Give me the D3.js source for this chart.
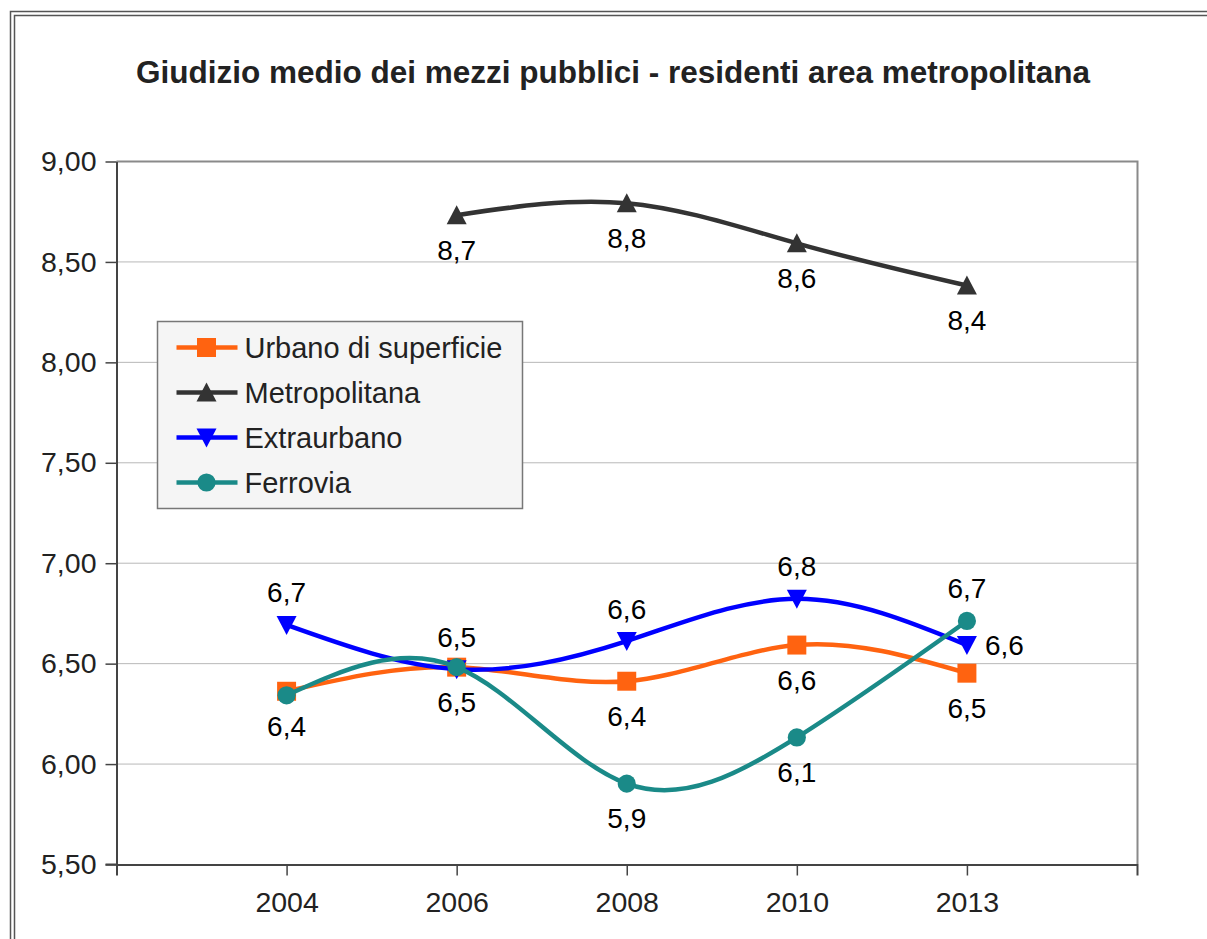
<!DOCTYPE html>
<html lang="it">
<head>
  <meta charset="utf-8">
  <title>Giudizio medio dei mezzi pubblici</title>
  <script src="https://d3js.org/d3.v7.min.js"></script>
  <style>
    body { margin: 0; background: #fff; }
    text { font-family: "Liberation Sans", Arial, sans-serif; }
  </style>
</head>
<body>
<script>
  // data
  var years = ["2004", "2006", "2008", "2010", "2013"];
  var urbano = [6.36, 6.48, 6.41, 6.59, 6.45];
  var metropolitana = [null, 8.73, 8.79, 8.59, 8.38];
  var extraurbano = [6.69, 6.47, 6.61, 6.82, 6.59];
  var ferrovia = [6.34, 6.48, 5.90, 6.13, 6.71];
  var yTicks = [5.5, 6.0, 6.5, 7.0, 7.5, 8.0, 8.5, 9.0];

  // where each point's value label sits (null = hidden behind another label)
  var urbanoLabelPos = ["below", "below", "below", "below", "below"];
  var metroLabelPos = [null, "below", "below", "below", "below"];
  var extraLabelPos = ["above", "above", "above", "above", "right"];
  var ferroviaLabelPos = [null, null, "below", "below", "above"];

  var series = [
    { name: "Urbano di superficie", values: urbano, color: "#ff6310", symbol: "square", pos: urbanoLabelPos },
    { name: "Metropolitana", values: metropolitana, color: "#333333", symbol: "triangle", pos: metroLabelPos },
    { name: "Extraurbano", values: extraurbano, color: "#0000ff", symbol: "triangleDown", pos: extraLabelPos },
    { name: "Ferrovia", values: ferrovia, color: "#1a8a88", symbol: "circle", pos: ferroviaLabelPos }
  ];

  var W = 1207, H = 939;
  var pLeft = 116.5, pRight = 1137, pTop = 161, pBottom = 864;

  var svg = d3.select("body").append("svg")
    .attr("width", W)
    .attr("height", H);

  // double outer frame (runs off the picture on right and bottom)
  svg.append("rect").attr("x", 10.5).attr("y", 11.5).attr("width", 1220).attr("height", 960)
    .attr("fill", "none").attr("stroke", "#555").attr("stroke-width", 1.5);
  svg.append("rect").attr("x", 14.5).attr("y", 15.5).attr("width", 1220).attr("height", 960)
    .attr("fill", "none").attr("stroke", "#555").attr("stroke-width", 1.5);

  svg.append("text")
    .attr("x", 613).attr("y", 83)
    .attr("text-anchor", "middle")
    .attr("font-size", "31.5px")
    .attr("font-weight", "bold")
    .attr("fill", "#222")
    .text("Giudizio medio dei mezzi pubblici - residenti area metropolitana");

  var x = d3.scalePoint().domain(years).range([pLeft, pRight]).padding(1);
  var y = d3.scaleLinear().domain([5.5, 9]).range([pBottom, pTop]);

  // gridlines
  svg.append("g").selectAll("line")
    .data(yTicks)
    .enter().append("line")
    .attr("x1", pLeft).attr("x2", pRight)
    .attr("y1", function (d) { return y(d) + 0.5; })
    .attr("y2", function (d) { return y(d) + 0.5; })
    .attr("stroke", "#b8b8b8").attr("stroke-width", 1);

  // plot frame top / right
  svg.append("path")
    .attr("d", "M" + pLeft + "," + (pTop + 0.5) + "H" + (pRight + 0.5) + "V" + pBottom)
    .attr("fill", "none").attr("stroke", "#8a8a8a").attr("stroke-width", 2);

  var fmtTick = function (d) { return d.toFixed(2).replace(".", ","); };
  var fmtVal = function (d) { return (Math.round(d * 10 + 1e-6) / 10).toFixed(1).replace(".", ","); };

  var yAxis = svg.append("g")
    .attr("transform", "translate(" + pLeft + ",0.5)")
    .call(d3.axisLeft(y).tickValues(yTicks).tickFormat(fmtTick).tickSize(11).tickSizeOuter(0).tickPadding(9));
  yAxis.select(".domain").attr("stroke", "#444").attr("stroke-width", 2);
  yAxis.selectAll(".tick line").attr("stroke", "#444").attr("stroke-width", 1.5);
  yAxis.selectAll("text").attr("font-size", "28.5px").attr("fill", "#222")
    .attr("font-family", "Liberation Sans, Arial, sans-serif");

  var xAxis = svg.append("g")
    .attr("transform", "translate(0," + (pBottom + 0.5) + ")")
    .call(d3.axisBottom(x).tickSize(11).tickSizeOuter(11).tickPadding(16));
  xAxis.select(".domain").attr("stroke", "#444").attr("stroke-width", 2);
  xAxis.selectAll(".tick line").attr("stroke", "#444").attr("stroke-width", 1.5);
  xAxis.selectAll("text").attr("font-size", "28.5px").attr("fill", "#222")
    .attr("font-family", "Liberation Sans, Arial, sans-serif");
  // left stub of x axis (meets the 5,50 tick)
  svg.append("line").attr("x1", pLeft - 11).attr("x2", pLeft).attr("y1", pBottom + 0.5).attr("y2", pBottom + 0.5)
    .attr("stroke", "#444").attr("stroke-width", 2);

  var symbolPath = function (kind) {
    if (kind === "square") return d3.symbol(d3.symbolSquare, 360)();
    if (kind === "circle") return d3.symbol(d3.symbolCircle, 260)();
    if (kind === "triangle") return "M0,-10L10,9L-10,9Z";
    return "M0,10L10,-9L-10,-9Z";
  };

  var line = d3.line()
    .defined(function (d) { return d.v != null; })
    .x(function (d) { return x(d.year); })
    .y(function (d) { return y(d.v); })
    .curve(d3.curveNatural);

  series.forEach(function (s) {
    var pts = years.map(function (yr, i) { return { year: yr, v: s.values[i], pos: s.pos[i] }; })
      .filter(function (d) { return d.v != null; });
    var g = svg.append("g");
    g.append("path")
      .datum(pts)
      .attr("d", line)
      .attr("fill", "none")
      .attr("stroke", s.color)
      .attr("stroke-width", 4.5);
    g.selectAll(".mk")
      .data(pts)
      .enter().append("path")
      .attr("class", "mk")
      .attr("transform", function (d) { return "translate(" + x(d.year) + "," + y(d.v) + ")"; })
      .attr("d", symbolPath(s.symbol))
      .attr("fill", s.color);
  });

  // value labels on top
  series.forEach(function (s) {
    var pts = years.map(function (yr, i) { return { year: yr, v: s.values[i], pos: s.pos[i] }; })
      .filter(function (d) { return d.v != null && d.pos != null; });
    svg.append("g").selectAll("text")
      .data(pts)
      .enter().append("text")
      .attr("x", function (d) { return d.pos === "right" ? x(d.year) + 18 : x(d.year); })
      .attr("y", function (d) {
        if (d.pos === "above") return y(d.v) - 32;
        if (d.pos === "below") return y(d.v) + 35;
        return y(d.v);
      })
      .attr("text-anchor", function (d) { return d.pos === "right" ? "start" : "middle"; })
      .attr("dominant-baseline", "central")
      .attr("font-size", "28px")
      .attr("fill", "#000")
      .text(function (d) { return fmtVal(d.v); });
  });

  // legend
  var legend = svg.append("g").attr("transform", "translate(157.5,321.5)");
  legend.append("rect")
    .attr("width", 365).attr("height", 187)
    .attr("fill", "#f5f5f5").attr("stroke", "#777").attr("stroke-width", 1.5);
  var rows = legend.selectAll(".row")
    .data(series)
    .enter().append("g")
    .attr("class", "row")
    .attr("transform", function (d, i) { return "translate(0," + (26 + i * 45) + ")"; });
  rows.append("line")
    .attr("x1", 19).attr("x2", 80)
    .attr("stroke", function (d) { return d.color; })
    .attr("stroke-width", 4.5);
  rows.append("path")
    .attr("transform", "translate(49,0)")
    .attr("d", function (d) { return symbolPath(d.symbol); })
    .attr("fill", function (d) { return d.color; });
  rows.append("text")
    .attr("x", 87).attr("y", 0)
    .attr("dominant-baseline", "central")
    .attr("font-size", "29px")
    .attr("fill", "#222")
    .text(function (d) { return d.name; });
</script>
</body>
</html>
